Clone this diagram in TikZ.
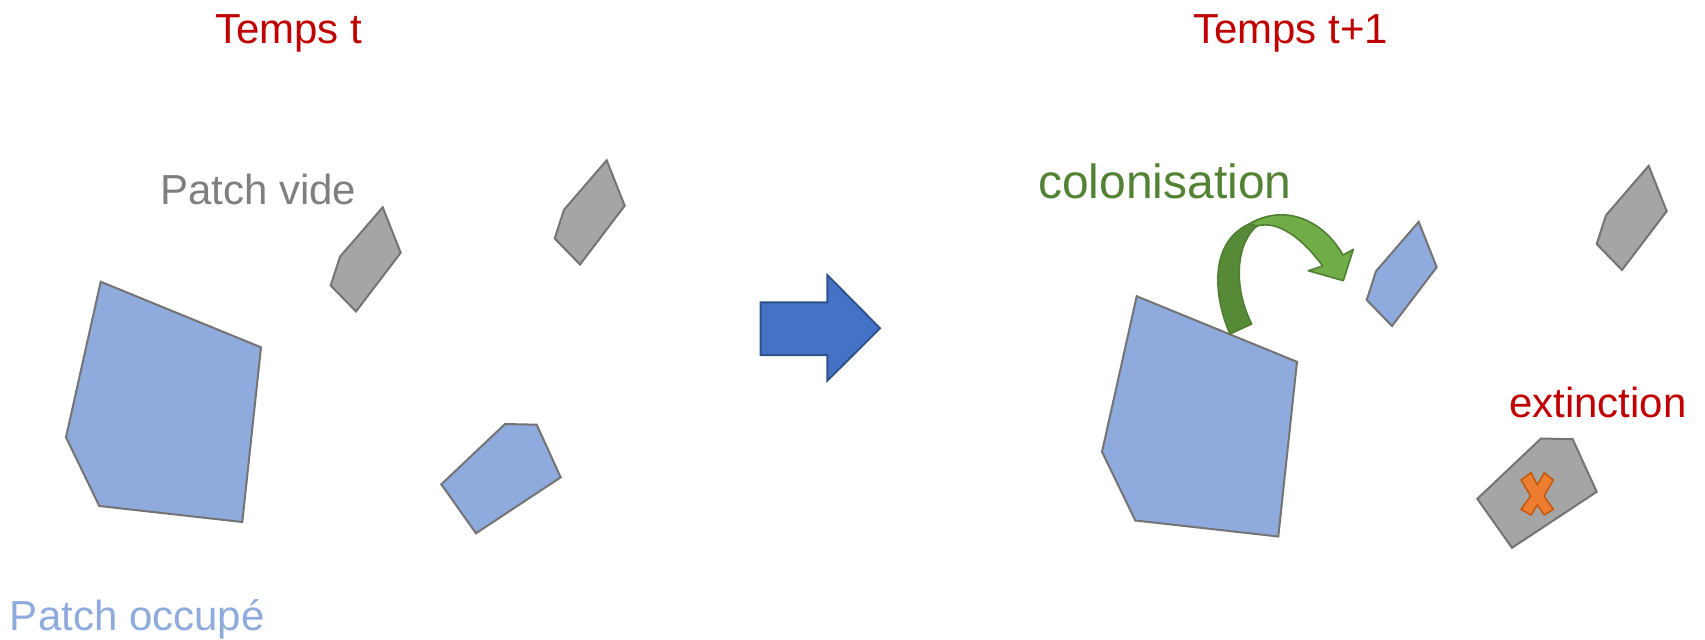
\documentclass[tikz,border=0pt]{standalone}
\usepackage{fontspec}
\setmainfont{Liberation Sans}
\definecolor{redtxt}{HTML}{C00000}
\definecolor{graytxt}{HTML}{7F7F7F}
\definecolor{bluepatch}{HTML}{8FAADC}
\definecolor{graypatch}{HTML}{A5A5A5}
\definecolor{edgegray}{HTML}{747474}
\definecolor{greentxt}{HTML}{548235}
\definecolor{greenlight}{HTML}{70AD47}
\definecolor{greendark}{HTML}{578A36}
\definecolor{greenedge}{HTML}{507E32}
\definecolor{arrowblue}{HTML}{4472C4}
\definecolor{arrowedge}{HTML}{2F528F}
\definecolor{xorange}{HTML}{ED7D31}
\definecolor{xedge}{HTML}{C55A11}
\begin{document}
\begin{tikzpicture}[x=0.5pt,y=-0.5pt,
  patch/.style={draw=edgegray,line width=1pt},
  occ/.style={patch,fill=bluepatch},
  vide/.style={patch,fill=graypatch},
  lbl/.style={inner sep=0pt,outer sep=0pt,anchor=base west,font=\fontsize{21}{25}\selectfont}]
\useasboundingbox (0,0) rectangle (1705,639);

% ---------- Temps t ----------
\draw[occ] (100.7,281.7) -- (261,347.3) -- (242.3,522) -- (99.3,506) -- (66,437.3) -- cycle;
\draw[vide] (382.7,207.3) -- (400.7,252.7) -- (356,311.5) -- (330.7,285.5) -- (340,256.7) -- cycle;
\begin{scope}[shift={(224,-47)}]
\draw[vide] (382.7,207.3) -- (400.7,252.7) -- (356,311.5) -- (330.7,285.5) -- (340,256.7) -- cycle;
\end{scope}
\draw[occ] (505,424) -- (536.7,424.7) -- (560.7,477.3) -- (476,533.3) -- (441.3,484.3) -- cycle;

% ---------- block arrow ----------
\draw[fill=arrowblue,draw=arrowedge,line width=1pt] (760.7,302.3) -- (827.3,302.3) -- (827.3,275) -- (880,328.3) -- (827.3,380.7) -- (827.3,355) -- (760.7,355) -- cycle;

% ---------- Temps t+1 ----------
\begin{scope}[shift={(1036,14.5)}]
\draw[occ] (100.7,281.7) -- (261,347.3) -- (242.3,522) -- (99.3,506) -- (66,437.3) -- cycle;
\draw[occ] (382.7,207.3) -- (400.7,252.7) -- (356,311.5) -- (330.7,285.5) -- (340,256.7) -- cycle;
\draw[vide] (505,424) -- (536.7,424.7) -- (560.7,477.3) -- (476,533.3) -- (441.3,484.3) -- cycle;
\end{scope}
\begin{scope}[shift={(1266,-41.5)}]
\draw[vide] (382.7,207.3) -- (400.7,252.7) -- (356,311.5) -- (330.7,285.5) -- (340,256.7) -- cycle;
\end{scope}

% colonisation arrow
\draw[fill=greenlight,draw=greenedge,line width=0.8pt,line join=round]
  (1249,224) .. controls (1285,203) and (1323,220) .. (1343,255)
  -- (1353.3,249.3) -- (1343.3,280.7) -- (1308.3,270.7) -- (1322.7,266)
  .. controls (1302,238) and (1278,220) .. (1257,226) -- cycle;
\draw[fill=greendark,draw=greenedge,line width=0.8pt,line join=round]
  (1230,334) .. controls (1214,298) and (1208,243) .. (1249,224)
  -- (1257,226) .. controls (1237,242) and (1232,285) .. (1251.7,324) -- cycle;

% extinction cross
\draw[fill=xorange,draw=xedge,line width=0.8pt,line join=round]
  (1521,480) -- (1531,472.7) -- (1537.3,485) -- (1544.3,472.7) -- (1553.3,480)
  -- (1544,496) -- (1553.3,509.3) -- (1544.3,515) -- (1537.3,505) -- (1531,515)
  -- (1521,509.3) -- (1530.7,496) -- cycle;

% ---------- labels ----------
\node[lbl,text=redtxt] (tempst) at (215,43) {Temps t};
\node[lbl,text=graytxt] (vide) at (160,204) {Patch vide};
\node[lbl,text=bluepatch] (occupe) at (10,630) {Patch occupé};
\node[lbl,text=redtxt] (tempst1) at (1193,43) {Temps t+1};
\node[lbl,text=greentxt,font=\fontsize{24}{29}\selectfont] (colo) at (1038,198) {colonisation};
\node[lbl,text=redtxt] (ext) at (1509,417) {extinction};
\end{tikzpicture}
\end{document}
